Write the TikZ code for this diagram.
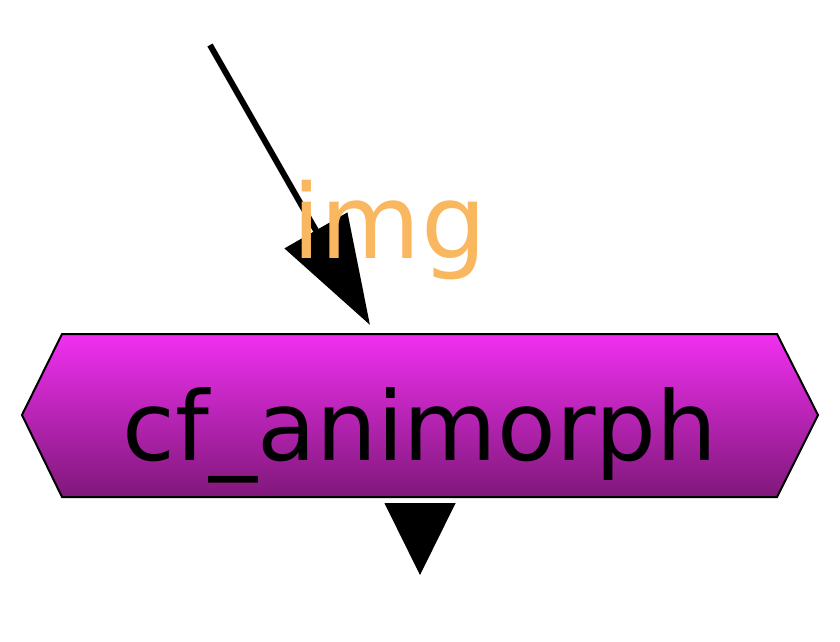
\documentclass[tikz,border=0pt]{standalone}
\usepackage{fontspec}
\setmainfont{DejaVu Sans}
\usetikzlibrary{arrows.meta}
\definecolor{hextop}{RGB}{240,48,240}
\definecolor{hexbot}{RGB}{128,24,122}
\definecolor{imgorange}{RGB}{249,184,96}
\tikzset{
  hexbox/.style={draw=black, line width=2pt, line join=miter, top color=hextop, bottom color=hexbot},
  bigtext/.style={inner sep=0pt, font=\fontsize{96}{96}\selectfont, text=black},
  imglabel/.style={inner sep=0pt, font=\fontsize{103}{103}\selectfont, text=imgorange},
  inarrow/.style={line width=6pt, -{Triangle[length=109pt,width=71pt]}},
  outarrow/.style={line width=1pt, shorten <=6pt, -{Triangle[length=72pt,width=71pt]}}
}
\begin{document}
\begin{tikzpicture}[x=1pt,y=-1pt]
\useasboundingbox[fill=white] (0,0) rectangle (840,642);
\path[hexbox] (62,334) -- (777,334) -- (818,415) -- (777,497) -- (62,497) -- (22,415) -- cycle;
\node[bigtext, anchor=base] (main) at (420,460) {cf\_animorph};
\coordinate (src) at (210,45);
\coordinate (intip) at (370,325);
\coordinate (outstart) at (420,497);
\coordinate (outtip) at (420,575);
\draw[inarrow] (src) -- (intip);
\node[imglabel, anchor=base west] (img) at (292,258) {img};
\draw[outarrow] (outstart) -- (outtip);
\end{tikzpicture}
\end{document}
